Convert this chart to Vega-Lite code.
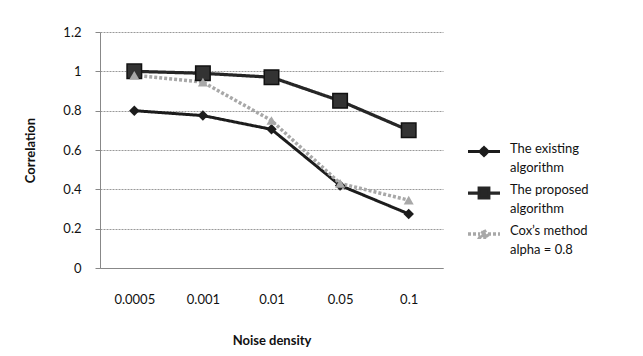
{
  "$schema": "https://vega.github.io/schema/vega-lite/v6.json",
  "autosize": "none",
  "width": 343,
  "height": 236,
  "padding": {"left": 100, "top": 32, "right": 200, "bottom": 88},
  "background": "white",
  "config": {
    "font": "Lato",
    "view": {"stroke": null},
    "axis": {"labelFont": "Lato", "titleFont": "Lato", "labelColor": "#111", "titleColor": "#111"}
  },
  "data": {
    "values": [
      {"noise": "0.0005", "series": "The existing algorithm", "value": 0.80},
      {"noise": "0.001", "series": "The existing algorithm", "value": 0.775},
      {"noise": "0.01", "series": "The existing algorithm", "value": 0.705},
      {"noise": "0.05", "series": "The existing algorithm", "value": 0.42},
      {"noise": "0.1", "series": "The existing algorithm", "value": 0.275},
      {"noise": "0.0005", "series": "The proposed algorithm", "value": 1.0},
      {"noise": "0.001", "series": "The proposed algorithm", "value": 0.99},
      {"noise": "0.01", "series": "The proposed algorithm", "value": 0.97},
      {"noise": "0.05", "series": "The proposed algorithm", "value": 0.85},
      {"noise": "0.1", "series": "The proposed algorithm", "value": 0.70},
      {"noise": "0.0005", "series": "Cox's method alpha = 0.8", "value": 0.98},
      {"noise": "0.001", "series": "Cox's method alpha = 0.8", "value": 0.945},
      {"noise": "0.01", "series": "Cox's method alpha = 0.8", "value": 0.75},
      {"noise": "0.05", "series": "Cox's method alpha = 0.8", "value": 0.43},
      {"noise": "0.1", "series": "Cox's method alpha = 0.8", "value": 0.345}
    ]
  },
  "encoding": {
    "x": {
      "field": "noise", "type": "ordinal", "sort": null,
      "scale": {"type": "point", "padding": 0.5},
      "axis": {
        "title": "Noise density", "labelAngle": 0, "ticks": false, "labelPadding": 25,
        "labelFontSize": 13, "titleFontSize": 13, "titleFontWeight": "bold", "titlePadding": 28,
        "domainColor": "#888", "grid": false
      }
    },
    "y": {
      "field": "value", "type": "quantitative",
      "scale": {"domain": [0, 1.2], "nice": false},
      "axis": {
        "title": "Correlation", "values": [0, 0.2, 0.4, 0.6, 0.8, 1, 1.2], "format": "~g",
        "labelFontSize": 13, "titleFontSize": 13, "titleFontWeight": "bold",
        "tickSize": 5, "tickColor": "#888", "labelPadding": 14,
        "domainColor": "#888", "gridColor": "#999", "gridDash": [2, 1], "gridWidth": 1,
        "titleX": -70, "titleY": 118, "titleAngle": -90, "titleAlign": "center", "titleBaseline": "middle"
      }
    },
    "color": {
      "field": "series", "type": "nominal", "sort": null,
      "scale": {
        "domain": ["The existing algorithm", "The proposed algorithm", "Cox's method alpha = 0.8"],
        "range": ["#1c1c1c", "#262626", "#a8a8a8"]
      },
      "legend": {
        "title": null, "orient": "none", "legendX": 366, "legendY": 102,
        "labelFontSize": 13, "labelColor": "#111", "rowPadding": 0, "labelOffset": 8,
        "symbolSize": 1024, "symbolStrokeWidth": 2,
        "labelExpr": "datum.label == 'The existing algorithm' ? ['The existing', 'algorithm'] : datum.label == 'The proposed algorithm' ? ['The proposed', 'algorithm'] : ['Cox\\u2019s method', 'alpha = 0.8']",
        "encode": {
          "labels": {"update": {"baseline": {"value": "top"}, "dy": {"value": -9}, "lineHeight": {"value": 19}}},
          "symbols": {
            "update": {
              "shape": {"signal": "datum.value == 'The existing algorithm' ? 'M-1,0H-0.25M0.25,0H1M0,-0.25L0.25,0L0,0.25L-0.25,0Z' : datum.value == 'The proposed algorithm' ? 'M-1,0H-0.3M0.3,0H1M-0.3,-0.3H0.3V0.3H-0.3Z' : 'M-1,0H-0.25M0.25,0H1M0,-0.25L0.25,0.2H-0.25Z'"},
              "fill": {"signal": "datum.value == 'The existing algorithm' ? '#555' : datum.value == 'The proposed algorithm' ? '#333' : '#b8b8b8'"},
              "stroke": {"signal": "datum.value == 'The existing algorithm' ? '#1c1c1c' : datum.value == 'The proposed algorithm' ? '#1c1c1c' : '#a0a0a0'"},
              "strokeWidth": {"value": 2},
              "strokeDash": {"signal": "datum.value == 'The existing algorithm' ? [] : datum.value == 'The proposed algorithm' ? [] : [3, 2]"}
            }
          }
        }
      }
    }
  },
  "layer": [
    {
      "mark": {"type": "line"},
      "encoding": {
        "strokeWidth": {
          "field": "series", "type": "nominal",
          "scale": {"domain": ["The existing algorithm", "The proposed algorithm", "Cox's method alpha = 0.8"], "range": [3, 3.5, 2.5]},
          "legend": null
        },
        "strokeDash": {
          "field": "series", "type": "nominal",
          "scale": {"domain": ["The existing algorithm", "The proposed algorithm", "Cox's method alpha = 0.8"], "range": [[1, 0], [1, 0], [3, 2]]},
          "legend": null
        }
      }
    },
    {
      "transform": [{"filter": "datum.series == 'The existing algorithm'"}],
      "mark": {"type": "point", "shape": "diamond", "size": 110, "filled": true, "opacity": 1}
    },
    {
      "transform": [{"filter": "datum.series == 'The proposed algorithm'"}],
      "mark": {"type": "point", "shape": "square", "size": 210, "filled": true, "opacity": 1, "fill": "#333", "stroke": "#111", "strokeWidth": 1.5}
    },
    {
      "transform": [{"filter": "datum.series == \"Cox's method alpha = 0.8\""}],
      "mark": {"type": "point", "shape": "triangle-up", "size": 100, "filled": true, "opacity": 1}
    }
  ]
}
